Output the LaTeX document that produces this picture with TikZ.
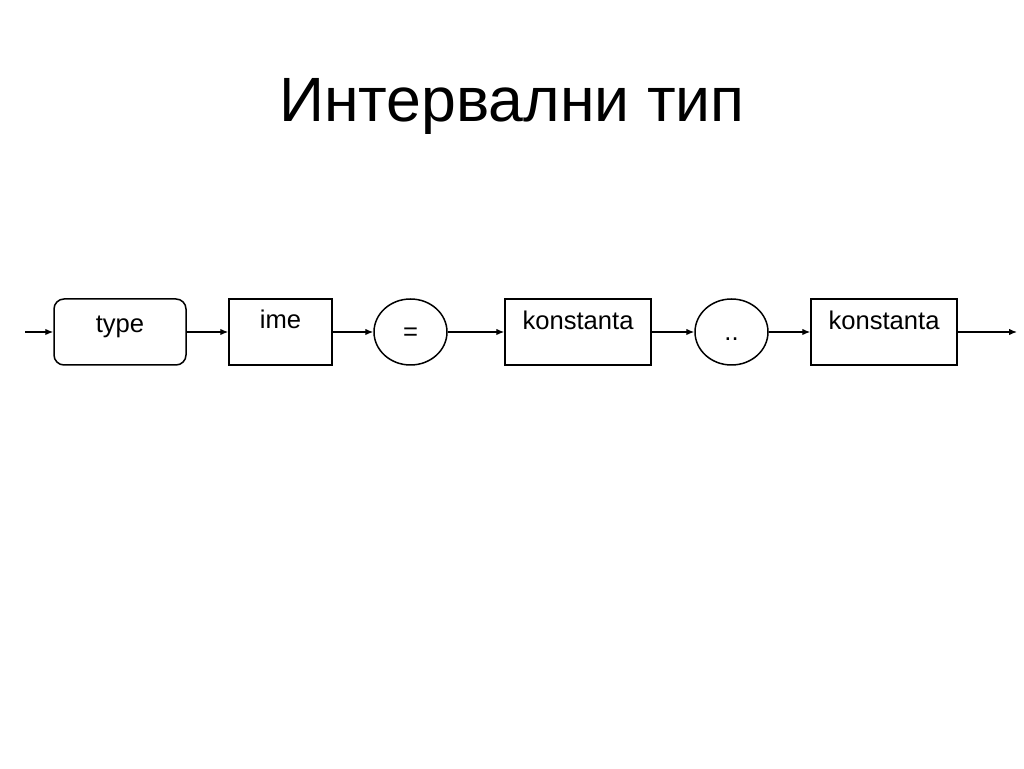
\documentclass[tikz,border=0pt]{standalone}
\usepackage{fontspec}
\setmainfont{Liberation Sans}
\usetikzlibrary{shapes.geometric,arrows.meta}
\begin{document}
\begin{tikzpicture}[x=1pt,y=1pt,
  box/.style={draw,line width=1.5pt,minimum width=#1,minimum height=66pt,inner sep=0pt},
  oval/.style={draw,ellipse,line width=1.5pt,minimum width=73pt,minimum height=66pt,inner sep=0pt},
  lbl/.style={font=\fontsize{25.6}{30}\selectfont,anchor=base,inner sep=0pt},
  conn/.style={line width=1.3pt,-{Latex[length=8pt,width=6.5pt]}}]
\useasboundingbox (0,0) rectangle (1024,768);
\node[font=\fontsize{62.6}{70}\selectfont] (title) at (512,662) {Интервални тип};
\node[box=132pt,rounded corners=10pt] (type) at (120,436) {};
\node[box=103pt] (ime) at (280.5,436) {};
\node[oval] (eq) at (410.5,436) {};
\node[box=146pt] (k1) at (578,436) {};
\node[oval] (dots) at (731.5,436) {};
\node[box=146pt] (k2) at (884,436) {};
\node[lbl] (tl) at (120,435) {type};
\node[lbl] (il) at (280.5,439) {ime};
\node[lbl] (el) at (410.5,427) {=};
\node[lbl] (k1l) at (578,438) {konstanta};
\node[lbl] (dl) at (731.5,427) {..};
\node[lbl] (k2l) at (884,438) {konstanta};
\coordinate (start) at (25,436);
\coordinate (end) at (1017,436);
\draw[conn] (start) -- (type);
\draw[conn] (type) -- (ime);
\draw[conn] (ime) -- (eq);
\draw[conn] (eq) -- (k1);
\draw[conn] (k1) -- (dots);
\draw[conn] (dots) -- (k2);
\draw[conn] (k2) -- (end);
\end{tikzpicture}
\end{document}
